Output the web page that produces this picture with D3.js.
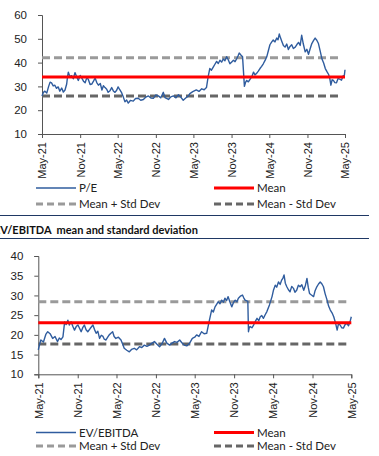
<!DOCTYPE html>
<html>
<head>
<meta charset="utf-8">
<script src="https://cdn.jsdelivr.net/npm/d3@7"></script>
<style>
  body { margin: 0; background: #fff; }
  svg { display: block; font-family: Lato, "Open Sans", sans-serif; }
  .tick text { font-size: 11px; fill: #222; }
  .domain, .tick line { stroke: #555; }
</style>
</head>
<body>
<svg id="chart" width="379" height="456"></svg>
<script>
// P/E series (date, value)
var peDates = ["2021-05-01","2021-05-08","2021-05-15","2021-05-24","2021-06-02","2021-06-09","2021-06-16","2021-06-24","2021-07-02","2021-07-10","2021-07-18","2021-07-26","2021-08-04","2021-08-12","2021-08-20","2021-08-28","2021-09-01","2021-09-05","2021-09-12","2021-09-21","2021-09-29","2021-10-07","2021-10-14","2021-10-23","2021-11-01","2021-11-09","2021-11-17","2021-11-25","2021-12-03","2021-12-10","2021-12-19","2021-12-27","2022-01-05","2022-01-12","2022-01-20","2022-01-28","2022-02-06","2022-02-14","2022-02-21","2022-03-01","2022-03-09","2022-03-16","2022-03-25","2022-04-02","2022-04-10","2022-04-18","2022-04-26","2022-05-03","2022-05-11","2022-05-19","2022-05-27","2022-06-05","2022-06-13","2022-06-21","2022-07-01","2022-07-15","2022-07-26","2022-08-08","2022-08-20","2022-09-02","2022-09-14","2022-09-26","2022-10-08","2022-10-20","2022-11-01","2022-11-13","2022-11-25","2022-12-07","2022-12-15","2023-01-01","2023-01-12","2023-01-25","2023-02-06","2023-02-18","2023-03-01","2023-03-13","2023-03-25","2023-04-07","2023-04-14","2023-04-28","2023-05-15","2023-05-28","2023-06-10","2023-06-22","2023-07-03","2023-07-11","2023-07-19","2023-07-27","2023-08-04","2023-08-12","2023-08-21","2023-08-29","2023-09-06","2023-09-14","2023-09-22","2023-09-30","2023-10-08","2023-10-16","2023-10-24","2023-11-02","2023-11-10","2023-11-18","2023-11-25","2023-12-02","2023-12-08","2023-12-16","2023-12-24","2024-01-02","2024-01-08","2024-01-13","2024-01-21","2024-01-29","2024-02-07","2024-02-15","2024-02-22","2024-03-01","2024-03-09","2024-03-17","2024-03-25","2024-04-02","2024-04-10","2024-04-19","2024-04-27","2024-05-04","2024-05-12","2024-05-20","2024-05-28","2024-06-06","2024-06-12","2024-06-18","2024-06-24","2024-06-30","2024-07-08","2024-07-16","2024-07-24","2024-08-01","2024-08-09","2024-08-17","2024-08-25","2024-09-03","2024-09-11","2024-09-19","2024-09-27","2024-10-04","2024-10-12","2024-10-21","2024-10-29","2024-11-06","2024-11-14","2024-11-22","2024-11-30","2024-12-08","2024-12-16","2024-12-24","2025-01-02","2025-01-10","2025-01-18","2025-01-26","2025-02-03","2025-02-11","2025-02-17","2025-02-22","2025-02-28","2025-03-06","2025-03-13","2025-03-21","2025-03-29","2025-04-06","2025-04-14","2025-04-22","2025-04-27","2025-05-01"];
var peValues = [26,27.5,28,27.2,30,31.8,31.5,30.2,30.5,29.2,29.8,28,29.3,27.6,28.5,31,34,36,34.2,34.5,33.2,35.8,34.3,32.5,34.6,33.5,32.2,31.5,33.6,33,30.8,31,32.3,33.5,31.6,30.5,31.2,28.5,30.3,29.5,28.8,27.5,28.2,29.5,28.1,27.5,28.4,29.8,28.6,27.5,25.8,23.5,24.3,23,24.1,23.8,24.9,25,24.2,24.5,25.5,26,25.1,25,26.4,26,25.2,27.5,25.3,24.5,25.6,26,25.2,26.5,25.5,24.2,25.1,26,27,27.8,28.5,27.9,29,28.6,29.5,34,37.5,36.8,38,39.2,40.5,39.6,41,40.2,41.5,40.8,42.5,41.2,39.5,40.3,41,40.4,41.5,42.8,44,43.2,42.5,30,31.8,32.5,31.9,33,34.2,36,34.8,35.5,36.4,37.5,38.4,39.5,40.8,42.5,45.2,47.5,48.6,49.5,48.7,50.3,49.6,52,50.4,49,47.2,46.5,47.8,45.5,46.8,47.5,45.9,46.5,47.6,48.5,47.2,51.5,47.8,44.5,45.6,43.5,45.8,48,49.2,50.3,49.4,48,44.6,41.5,39.8,37.5,36.2,35,33.2,30.5,32.8,32.5,31.6,31.5,33.4,33,32.6,34.5,34,37];
var peStats = [34, 42, 26]; // mean, mean + sd, mean - sd

// EV/EBITDA series
var evDates = ["2021-05-01","2021-05-07","2021-05-13","2021-05-25","2021-06-05","2021-06-14","2021-06-25","2021-07-07","2021-07-18","2021-07-30","2021-08-07","2021-08-15","2021-08-24","2021-09-01","2021-09-08","2021-09-16","2021-09-23","2021-10-01","2021-10-09","2021-10-17","2021-10-25","2021-11-02","2021-11-10","2021-11-17","2021-11-25","2021-12-02","2021-12-10","2021-12-18","2021-12-29","2022-01-11","2022-01-18","2022-01-26","2022-02-03","2022-02-11","2022-02-19","2022-02-27","2022-03-05","2022-03-13","2022-03-21","2022-03-28","2022-04-05","2022-04-13","2022-04-20","2022-04-28","2022-05-10","2022-05-22","2022-05-30","2022-06-06","2022-06-18","2022-06-30","2022-07-10","2022-07-23","2022-08-03","2022-08-16","2022-08-27","2022-09-08","2022-09-20","2022-10-02","2022-10-14","2022-10-25","2022-11-06","2022-11-18","2022-11-30","2022-12-11","2022-12-22","2023-01-04","2023-01-15","2023-01-27","2023-02-08","2023-02-20","2023-03-02","2023-03-13","2023-03-25","2023-04-06","2023-04-20","2023-05-01","2023-05-10","2023-05-21","2023-06-02","2023-06-14","2023-06-26","2023-07-07","2023-07-19","2023-07-27","2023-08-04","2023-08-12","2023-08-19","2023-08-27","2023-09-04","2023-09-12","2023-09-19","2023-09-27","2023-10-04","2023-10-12","2023-10-21","2023-10-29","2023-11-06","2023-11-14","2023-11-21","2023-11-30","2023-12-10","2023-12-16","2023-12-22","2024-01-04","2024-01-07","2024-01-11","2024-01-15","2024-01-23","2024-01-31","2024-02-08","2024-02-16","2024-02-24","2024-03-02","2024-03-09","2024-03-17","2024-03-25","2024-04-02","2024-04-14","2024-04-26","2024-05-03","2024-05-11","2024-05-18","2024-05-26","2024-06-03","2024-06-10","2024-06-16","2024-06-21","2024-06-27","2024-07-04","2024-07-11","2024-07-19","2024-07-27","2024-08-04","2024-08-11","2024-08-19","2024-08-27","2024-09-04","2024-09-12","2024-09-21","2024-09-29","2024-10-06","2024-10-12","2024-10-18","2024-10-27","2024-11-06","2024-11-13","2024-11-21","2024-11-29","2024-12-07","2024-12-15","2024-12-22","2024-12-30","2025-01-08","2025-01-15","2025-01-23","2025-01-31","2025-02-08","2025-02-16","2025-02-24","2025-03-02","2025-03-10","2025-03-17","2025-03-25","2025-04-02","2025-04-10","2025-04-18","2025-04-25","2025-05-01"];
var evValues = [16.2,17.6,18.7,18.2,20.1,20.8,20.3,19.1,19.6,18.3,19.2,18.8,19.5,23.3,22.6,23.7,22.5,23.3,22.2,21.2,22.1,22.5,21.6,20.8,21.9,22.5,21.3,20.8,21.6,22.5,21.4,20.4,20.9,19.1,19.9,19.6,18.9,18.7,19.4,20,20.4,20.8,19.6,19.1,19.4,18.7,17.6,16.6,16.1,15.7,16.3,16.6,16.2,17,16.8,17.4,17.1,17.4,17.9,18.3,17.6,17,17.8,19.1,17.9,17.4,17.9,18.3,18.1,18.7,18,17.4,17.2,17.8,19.1,19.4,20,19.6,20.8,20.3,20.4,23.3,26.3,25.8,27.1,27.8,28.4,27.9,28.8,28.3,29.3,28.7,29.7,28.4,27.1,28.2,28.8,28.4,29.3,29.8,30.1,29.4,28.8,28.5,20.8,21.9,22.1,21.8,22.5,23.4,24.2,23.6,24.6,24.9,24.2,25.1,25.9,27.6,29.7,31.4,32.6,32.1,33.4,32.8,33.9,34.4,35.2,33.1,32.2,31.5,30.9,32.3,31.8,30.8,31.3,32.6,32.2,32.7,31.3,32.6,34.3,32.1,30.5,30.1,29.7,31.2,32.2,32.9,33.4,32.9,32.2,30.4,28.8,27.3,26.3,25.6,24.6,23.1,21.2,22.8,22.5,21.8,21.7,22.6,22.9,22.3,23.3,24.6];
var evStats = [23.1, 28.4, 17.7];

var tickDates = ["2021-05-01","2021-11-01","2022-05-01","2022-11-01","2023-05-01","2023-11-01","2024-05-01","2024-11-01","2025-05-01"];

var parse = d3.timeParse("%Y-%m-%d");
var svg = d3.select("#chart");

function drawChart(cfg) {
  var x = d3.scaleTime()
    .domain([parse(tickDates[0]), parse(tickDates[tickDates.length - 1])])
    .range([cfg.left, cfg.right]);
  var y = d3.scaleLinear().domain(cfg.yDomain).range([cfg.bottom, cfg.top]);

  var g = svg.append("g");

  g.append("g")
    .attr("transform", "translate(" + cfg.left + ",0)")
    .call(d3.axisLeft(y).tickValues(cfg.yTicks).tickSize(4).tickPadding(11))
    .call(a => a.selectAll(".tick text").style("font-size", "11.5px"));

  g.append("g")
    .attr("transform", "translate(0," + cfg.bottom + ")")
    .call(d3.axisBottom(x).tickValues(tickDates.map(parse)).tickSize(4).tickFormat(d3.timeFormat("%b-%y")))
    .call(a => a.selectAll(".tick text")
      .attr("transform", "rotate(-90)")
      .attr("text-anchor", "end")
      .attr("x", -8)
      .attr("y", 0)
      .attr("dy", "0.35em"));

  var xs = x.range();
  var stats = cfg.stats;
  // mean +/- sd dashed lines
  g.append("line").attr("x1", xs[0]).attr("x2", xs[1] - 4)
    .attr("y1", y(stats[1])).attr("y2", y(stats[1]))
    .attr("stroke", "#9a9a9a").attr("stroke-width", 3).attr("stroke-dasharray", "8,4");
  g.append("line").attr("x1", xs[0]).attr("x2", xs[1] - 4)
    .attr("y1", y(stats[2])).attr("y2", y(stats[2]))
    .attr("stroke", "#666").attr("stroke-width", 3).attr("stroke-dasharray", "8,4");

  var pts = cfg.dates.map((d, i) => [parse(d), cfg.values[i]]);
  g.append("path")
    .datum(pts)
    .attr("fill", "none")
    .attr("stroke", "#2f5c9e")
    .attr("stroke-width", 1.4)
    .attr("stroke-linejoin", "round")
    .attr("d", d3.line().x(d => x(d[0])).y(d => y(d[1])));

  g.append("line").attr("x1", xs[0]).attr("x2", xs[1])
    .attr("y1", y(stats[0])).attr("y2", y(stats[0]))
    .attr("stroke", "#ff0000").attr("stroke-width", 3);

  // legend
  var lg = g.append("g").style("font-size", "11.5px").attr("fill", "#222");
  var items = [
    {lx: 36, ly: cfg.legY[0], label: cfg.name, color: "#2f5c9e", w: 1.4, dash: null},
    {lx: 214, ly: cfg.legY[0], label: "Mean", color: "#ff0000", w: 3, dash: null},
    {lx: 36, ly: cfg.legY[1], label: "Mean + Std Dev", color: "#9a9a9a", w: 3, dash: "7,4"},
    {lx: 214, ly: cfg.legY[1], label: "Mean - Std Dev", color: "#666", w: 3, dash: "7,4"}
  ];
  items.forEach(function(it) {
    lg.append("line").attr("x1", it.lx).attr("x2", it.lx + 40)
      .attr("y1", it.ly).attr("y2", it.ly)
      .attr("stroke", it.color).attr("stroke-width", it.w)
      .attr("stroke-dasharray", it.dash);
    lg.append("text").attr("x", it.lx + 43).attr("y", it.ly).attr("dy", "0.35em").text(it.label);
  });
}

drawChart({
  name: "P/E", dates: peDates, values: peValues, stats: peStats,
  left: 42, right: 345, top: 15, bottom: 134,
  yDomain: [10, 60], yTicks: [10, 20, 30, 40, 50, 60], legY: [188, 204]
});

// section heading
svg.append("line").attr("x1", 0).attr("x2", 369).attr("y1", 215.5).attr("y2", 215.5)
  .attr("stroke", "#1f3864").attr("stroke-width", 1);
svg.append("text").attr("x", -6).attr("y", 234)
  .style("font-size", "11px").style("font-weight", "bold").attr("fill", "#111")
  .attr("xml:space", "preserve")
  .text("EV/EBITDA  mean and standard deviation");
svg.append("line").attr("x1", 0).attr("x2", 369).attr("y1", 238.5).attr("y2", 238.5)
  .attr("stroke", "#1f3864").attr("stroke-width", 1);

drawChart({
  name: "EV/EBITDA", dates: evDates, values: evValues, stats: evStats,
  left: 38.3, right: 351.3, top: 256, bottom: 374.3,
  yDomain: [10, 40], yTicks: [10, 15, 20, 25, 30, 35, 40], legY: [432.5, 446]
});
</script>
</body>
</html>
